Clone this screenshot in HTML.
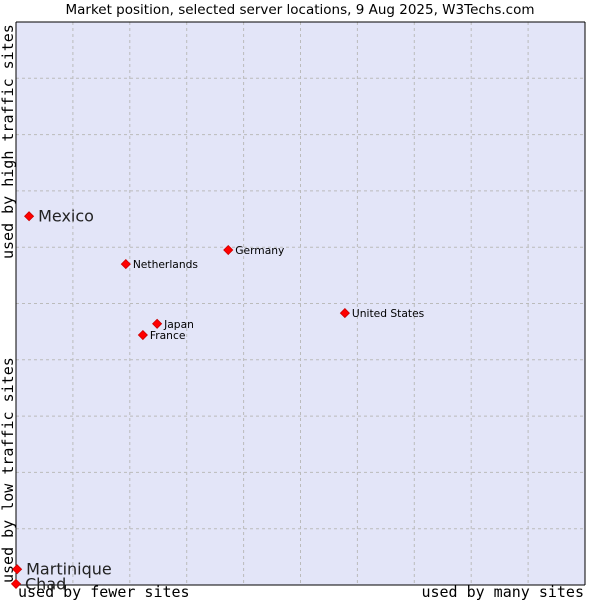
<!DOCTYPE html>
<html><head><meta charset="utf-8"><style>
body{margin:0;background:#fff;}
svg{display:block;font-family:"DejaVu Sans","Liberation Sans",sans-serif;}
</style></head><body>
<svg id="chart" width="600" height="600">
<text x="300" y="14" text-anchor="middle" font-size="13.5" fill="#000">Market position, selected server locations, 9 Aug 2025, W3Techs.com</text>
<rect x="16" y="22" width="569" height="563" fill="#e3e5f8"/>
<g id="grid"></g>
<line x1="16" y1="22" x2="16" y2="585" stroke="#000"/>
<line x1="16" y1="585" x2="585" y2="585" stroke="#000"/>
<line x1="16" y1="22" x2="585" y2="22" stroke="#000"/>
<line x1="585" y1="22" x2="585" y2="585" stroke="#000"/>
<text x="18" y="597" font-family="DejaVu Sans Mono,Liberation Mono,monospace" font-size="15">used by fewer sites</text>
<text x="584" y="597" text-anchor="end" font-family="DejaVu Sans Mono,Liberation Mono,monospace" font-size="15">used by many sites</text>
<text transform="translate(13,583) rotate(-90)" font-family="DejaVu Sans Mono,Liberation Mono,monospace" font-size="15">used by low traffic sites</text>
<text transform="translate(13,259) rotate(-90)" font-family="DejaVu Sans Mono,Liberation Mono,monospace" font-size="15">used by high traffic sites</text>
<g id="points"></g>
</svg>
<script>
const names=["Mexico","Netherlands","Germany","United States","Japan","France","Martinique","Chad"];
const xVals=[2.3,19.3,37.3,57.8,24.8,22.3,0.2,0.0];
const yVals=[65.5,57.0,59.5,48.3,46.4,44.4,2.8,0.2];
const bigLabel=[true,false,false,false,false,false,true,true];
const NS="http://www.w3.org/2000/svg";
const L=16,R=585,T=22,B=585;
function xs(v){return L+v/100*(R-L);}
function ys(v){return B-v/100*(B-T);}
const grid=document.getElementById('grid');
for(let i=1;i<10;i++){
  const gx=document.createElementNS(NS,'line');
  gx.setAttribute('x1',xs(i*10));gx.setAttribute('x2',xs(i*10));gx.setAttribute('y1',T);gx.setAttribute('y2',B);
  gx.setAttribute('stroke','#bbb');gx.setAttribute('stroke-dasharray','3,3');
  
  
  grid.appendChild(gx);
  const gy=document.createElementNS(NS,'line');
  gy.setAttribute('y1',ys(i*10));gy.setAttribute('y2',ys(i*10));gy.setAttribute('x1',L);gy.setAttribute('x2',R);
  gy.setAttribute('stroke','#bbb');gy.setAttribute('stroke-dasharray','3,3');
  
  
  grid.appendChild(gy);
}
const pts=document.getElementById('points');
names.forEach((n,i)=>{
  const x=xs(xVals[i]),y=ys(yVals[i]);
  const d=document.createElementNS(NS,'polygon');
  d.setAttribute('points',`${x},${y-4.5} ${x+4.5},${y} ${x},${y+4.5} ${x-4.5},${y}`);
  d.setAttribute('fill','#f00');d.setAttribute('stroke','#c00');d.setAttribute('stroke-width','0.8');
  
  
  pts.appendChild(d);
  const t=document.createElementNS(NS,'text');
  t.setAttribute('x',x+(bigLabel[i]?9:7));
  t.setAttribute('y',y+(bigLabel[i]?5.5:4));
  t.setAttribute('font-size',bigLabel[i]?16:10.7);
  t.setAttribute('fill',bigLabel[i]?'#222':'#000');
  t.textContent=n;
  
  
  pts.appendChild(t);
});
</script>
</body></html>
